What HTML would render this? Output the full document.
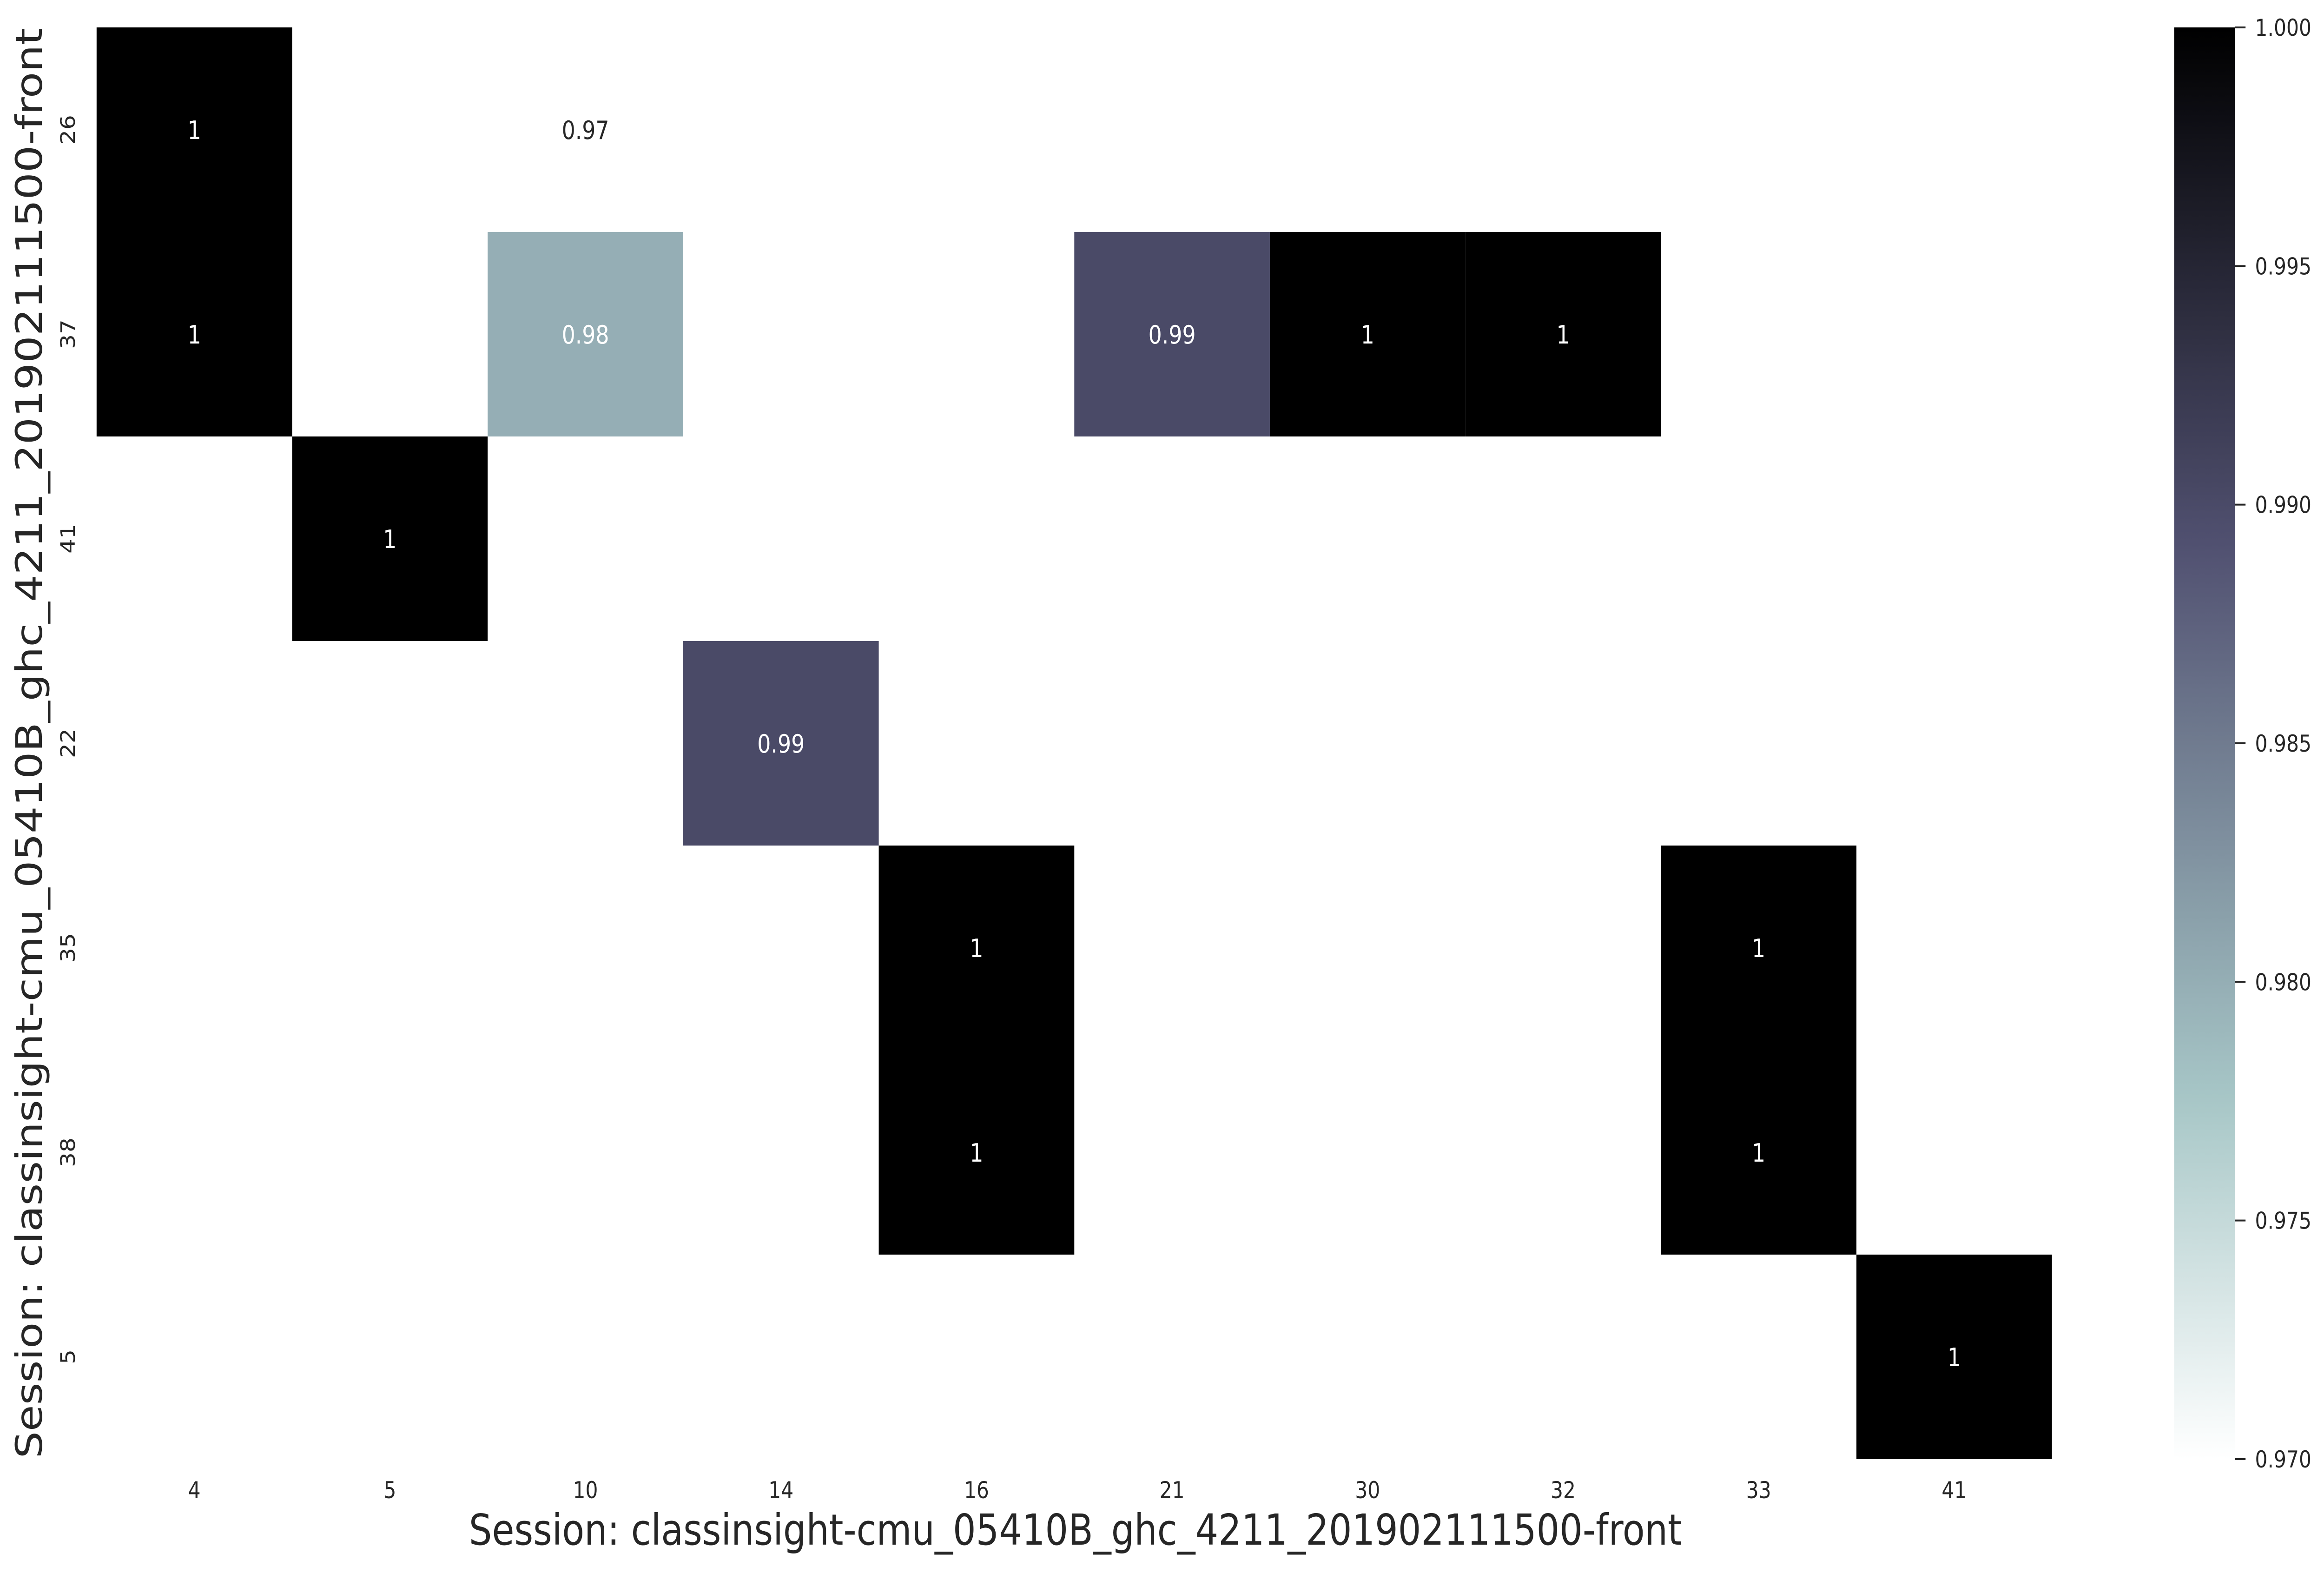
<!DOCTYPE html>
<html><head><meta charset="utf-8"><style>
html,body{margin:0;padding:0;background:#fff;overflow:hidden;width:100%;height:100%;}
svg{display:block;width:100vw;height:100vh;font-family:"DejaVu Sans","Liberation Sans",sans-serif;}
</style></head><body>
<svg id="chart" viewBox="0 0 5895 3384" preserveAspectRatio="none" xmlns="http://www.w3.org/2000/svg">
<defs><linearGradient id="cbgrad" x1="0" y1="1" x2="0" y2="0"></linearGradient></defs>
<g id="cells"></g>
<g id="xticks"></g>
<g id="yticks"></g>
<text x="2728" y="3323" font-size="92" fill="#262626" text-anchor="middle">Session: classinsight-cmu_05410B_ghc_4211_201902111500-front</text>
<text transform="translate(106,1599) rotate(-90)" font-size="92" fill="#262626" text-anchor="middle">Session: classinsight-cmu_05410B_ghc_4211_201902111500-front</text>
<g id="colorbar"></g>
</svg>
<script>
const colLabels = ["4","5","10","14","16","21","30","32","33","41"];
const rowLabels = ["26","37","41","22","35","38","5"];
const cellRows = [0,0,1,1,1,1,1,2,3,4,4,5,5,6];
const cellCols = [0,2,0,2,5,6,7,1,3,4,8,4,8,9];
const cellValues = [1,0.97,1,0.98,0.99,1,1,1,0.99,1,1,1,1,1];
const cellText = ["1","0.97","1","0.98","0.99","1","1","1","0.99","1","1","1","1","1"];
const cbTicks = [0.970,0.975,0.980,0.985,0.990,0.995,1.000];
const vmin = 0.970, vmax = 1.000;

const NS = "http://www.w3.org/2000/svg";
const X0 = 245, Y0 = 59, CW = 496, RH = 440;
const xPos = i => X0 + i * CW;
const yPos = j => Y0 + j * RH;

function interp(seg, t){
  for (let k=1;k<seg.length;k++){
    if (t <= seg[k][0]){
      const a = seg[k-1], b = seg[k];
      return a[1] + (b[1]-a[1]) * (t-a[0])/(b[0]-a[0]);
    }
  }
  return seg[seg.length-1][1];
}
const R = [[0,0],[0.746032,0.652778],[1,1]];
const G = [[0,0],[0.365079,0.319444],[0.746032,0.777778],[1,1]];
const B = [[0,0],[0.365079,0.444444],[1,1]];
function boneR(v){
  let t = (v - vmin)/(vmax - vmin); t = Math.max(0,Math.min(1,t));
  const s = 1 - t;
  const c = [interp(R,s),interp(G,s),interp(B,s)].map(x=>Math.round(x*255));
  return {css:`rgb(${c[0]},${c[1]},${c[2]})`, lum:(0.299*c[0]+0.587*c[1]+0.114*c[2])};
}
function mk(tag, attrs, parent){
  const e = document.createElementNS(NS, tag);
  for (const k in attrs) e.setAttribute(k, attrs[k]);
  parent.appendChild(e); return e;
}

const cells = document.getElementById("cells");
for (let i=0;i<cellValues.length;i++){
  const c = boneR(cellValues[i]);
  const r = mk("rect",{x:xPos(cellCols[i]),y:yPos(cellRows[i]),width:CW,height:RH,fill:c.css},cells);
  
  
  const t = mk("text",{x:xPos(cellCols[i])+CW/2,y:yPos(cellRows[i])+RH/2+20,"font-size":54,"text-anchor":"middle",fill:c.lum<180?"#ffffff":"#262626"},cells);
  
  
  t.textContent = cellText[i];
}
const xt = document.getElementById("xticks");
colLabels.forEach((l,i)=>{
  const t = mk("text",{x:xPos(i)+CW/2,y:3223,"font-size":50,"text-anchor":"middle",fill:"#262626"},xt);
  
  
  t.textContent = l;
});
const yt = document.getElementById("yticks");
rowLabels.forEach((l,j)=>{
  const t = mk("text",{transform:`translate(190,${yPos(j)+RH/2}) rotate(-90)`,"font-size":50,"text-anchor":"middle",fill:"#262626"},yt);
  
  
  t.textContent = l;
});
const grad = document.getElementById("cbgrad");
for (let k=0;k<=50;k++){
  const v = vmin + (vmax-vmin)*k/50;
  mk("stop",{offset:(k/50),"stop-color":boneR(v).css},grad);
}
const cb = document.getElementById("colorbar");
const CBX = 5515, CBW = 154, CBT = 59, CBB = 3139;
const cbY = v => CBB - (v - vmin)/(vmax - vmin) * (CBB - CBT);
const cbr = mk("rect",{x:CBX,y:CBT,width:CBW,height:CBB-CBT,fill:"url(#cbgrad)"},cb);


cbTicks.forEach(v=>{
  const y = cbY(v);
  const ln = mk("line",{x1:CBX+CBW,x2:CBX+CBW+27,y1:y,y2:y,stroke:"#262626","stroke-width":4},cb);
  
  
  const t = mk("text",{x:5720,y:y+18,"font-size":50,fill:"#262626"},cb);
  
  
  t.textContent = v.toFixed(3);
});
</script>
</body></html>
